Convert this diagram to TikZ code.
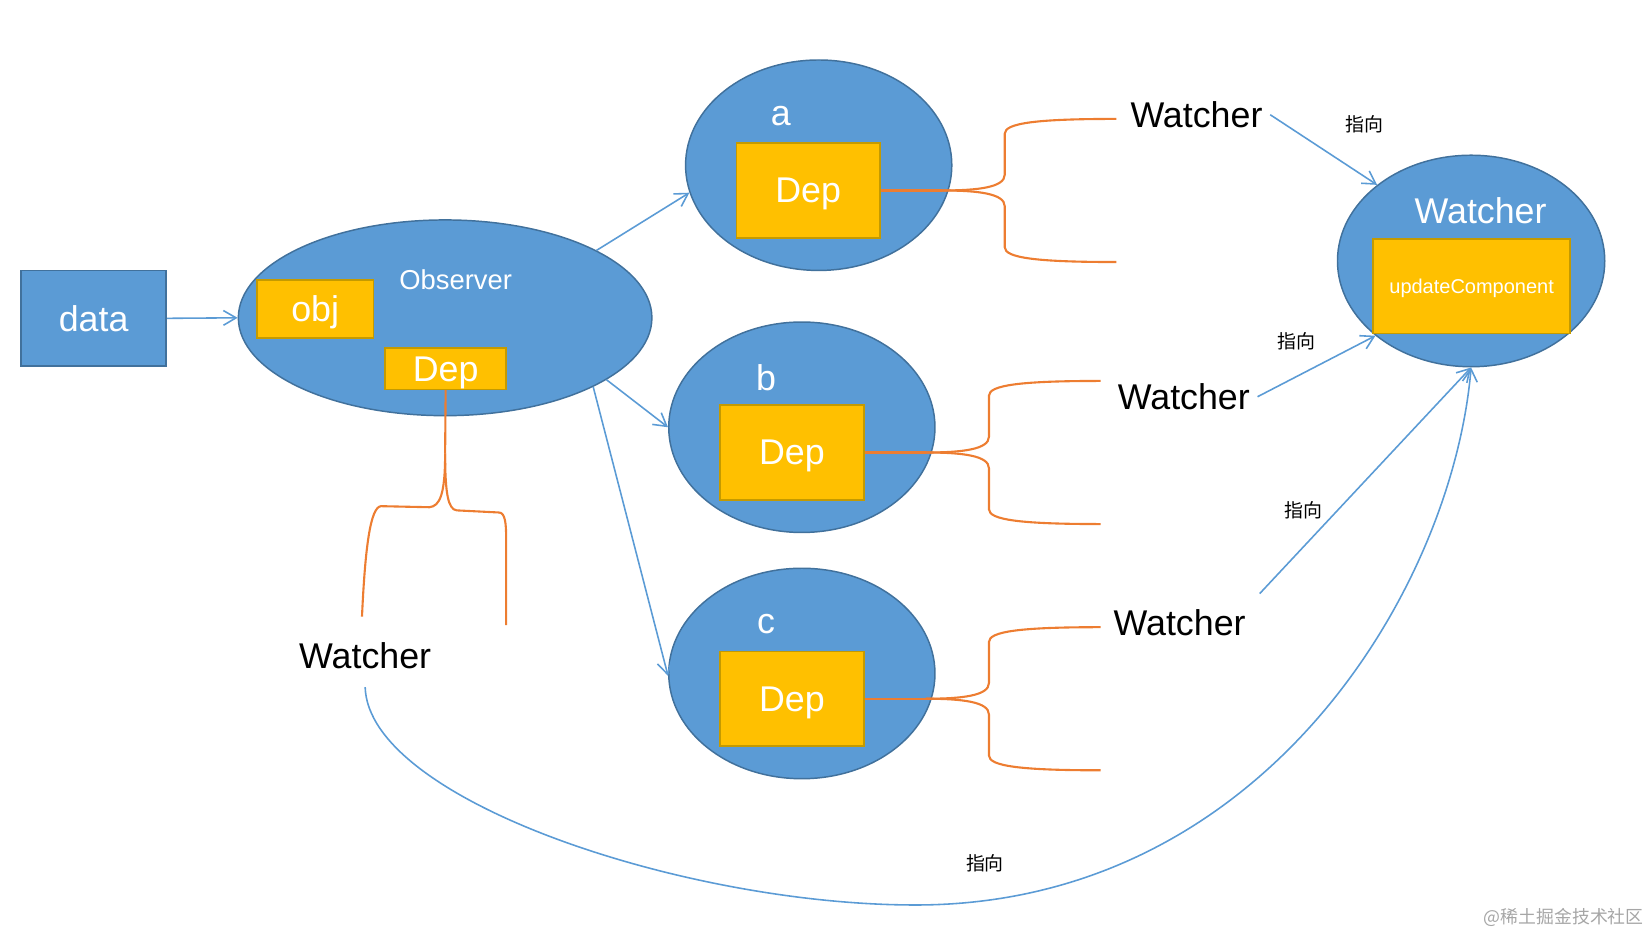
\documentclass[tikz,border=0pt]{standalone}
\usepackage{fontspec}
\setmainfont{Liberation Sans}
\newfontfamily\cjk{Noto Sans CJK SC}
\usetikzlibrary{shapes.geometric,arrows.meta}
\newdimen\dpx \dpx=0.5pt
\definecolor{bfill}{HTML}{5B9BD5}
\definecolor{bline}{HTML}{41719C}
\definecolor{yfill}{HTML}{FFC000}
\definecolor{yline}{HTML}{C49A00}
\definecolor{oline}{HTML}{ED7D31}
\definecolor{wmark}{HTML}{A6A6A6}
\begin{document}
\begin{tikzpicture}[x=0.5pt,y=-0.5pt,
  blueell/.style={ellipse, fill=bfill, draw=bline, line width=0.7pt, inner sep=0pt},
  bluebox/.style={rectangle, fill=bfill, draw=bline, line width=0.8pt, inner sep=0pt, text=white, font=\fontsize{17}{20}\selectfont},
  ybox/.style={rectangle, fill=yfill, draw=yline, line width=0.8pt, inner sep=0pt, text=white, text depth=0pt, font=\fontsize{17}{20}\selectfont},
  wtext/.style={text=white, inner sep=0pt, font=\fontsize{17}{20}\selectfont},
  btext/.style={text=black, inner sep=3.5pt, font=\fontsize{17}{20}\selectfont},
  zx/.style={text=black, inner sep=0pt, font=\cjk\fontsize{9}{11}\selectfont},
  barrow/.style={draw=bfill, line width=0.75pt, -{Straight Barb[length=6pt,width=7pt]}},
  obrace/.style={draw=oline, line width=1pt},
  hbr/.pic={
    \draw[obrace] (0,0) .. controls (35,0) and (60,-3) .. (60,-15) -- (60,-54) .. controls (60,-64) and (90,-68) .. (166,-68);
    \draw[obrace] (0,0) .. controls (35,0) and (60,3) .. (60,15) -- (60,54) .. controls (60,64) and (90,68) .. (166,68);
  }]
\useasboundingbox (0,0) rectangle (1568,890);

% data
\node[bluebox, minimum width=138\dpx, minimum height=91\dpx] (data) at (89,302.5) {data};

% Observer
\node[blueell, minimum width=393\dpx, minimum height=186\dpx] (obs) at (423,302) {};
\node[wtext, font=\fontsize{13}{16}\selectfont] (obst) at (433,266) {Observer};
\node[ybox, minimum width=111\dpx, minimum height=55\dpx] (obj) at (299.5,293.5) {obj};
\node[ybox, minimum width=115\dpx, minimum height=39\dpx] (depo) at (423.5,350.5) {Dep};

% a, b, c
\node[blueell, minimum width=253\dpx, minimum height=200\dpx] (a) at (778,157) {};
\node[wtext] (la) at (742,110) {a};
\node[ybox, minimum width=136\dpx, minimum height=90\dpx] (depa) at (768,181) {Dep};

\node[blueell, minimum width=253\dpx, minimum height=200\dpx] (b) at (762,406) {};
\node[wtext] (lb) at (728,359) {b};
\node[ybox, minimum width=137\dpx, minimum height=90\dpx] (depb) at (752.5,430) {Dep};

\node[blueell, minimum width=253\dpx, minimum height=200\dpx] (c) at (762,640) {};
\node[wtext] (lc) at (728,593) {c};
\node[ybox, minimum width=137\dpx, minimum height=90\dpx] (depc) at (752.5,664) {Dep};

% Watcher target
\node[blueell, minimum width=254\dpx, minimum height=201\dpx] (W) at (1398,248) {};
\node[wtext] (lW) at (1407,200) {Watcher};
\node[ybox, minimum width=187\dpx, minimum height=90\dpx, font=\fontsize{9.5}{11}\selectfont] (upd) at (1398.5,272) {updateComponent};

% black watchers
\node[btext] (w1) at (1137,109) {Watcher};
\node[btext] (w2) at (1125,377) {Watcher};
\node[btext] (w3) at (1121,592) {Watcher};
\node[btext] (w4) at (347,623) {Watcher};

% labels
\node[zx] (z1) at (1297,118) {指向};
\node[zx] (z2) at (1232,324) {指向};
\node[zx] (z3) at (1239,485) {指向};
\node[zx] (z4) at (936,820) {指向};
\node[text=wmark, inner sep=0pt, font=\cjk\fontsize{8.5}{10}\selectfont] (wm) at (1486,872) {@稀土掘金技术社区};

% braces
\draw[obrace] (depa.east) -- ++(58,0) coordinate (ta);
\pic at (ta) {hbr};
\draw[obrace] (depb.east) -- ++(58,0) coordinate (tb);
\pic at (tb) {hbr};
\draw[obrace] (depc.east) -- ++(58,0) coordinate (tc);
\pic at (tc) {hbr};

\draw[obrace] (depo.south) -- ++(-0.5,60) coordinate (to);
\draw[obrace] (to) .. controls (423,470) and (418,481) .. (408,482) -- (362,481) .. controls (352,482) and (347,520) .. (344,586);
\draw[obrace] (to) .. controls (423,470) and (426,484) .. (434,485) -- (474,487) .. controls (480,487) and (481,497) .. (481,512) -- (481,594);

% arrows
\draw[barrow] (data.east) -- (obs.west);
\draw[barrow] (obs.24) -- (a.192);
\draw[barrow] (obs.-21) -- (b.180);
\draw[barrow] (obs.-25) -- (c.181);
\draw[barrow] (w1.east) -- (W.141);
\draw[barrow] (w2.east) -- (W.218);
\draw[barrow] ([shift={(6,-8)}]w3.north east) -- (W.south);
\draw[barrow] ([yshift=-5pt]w4.south) .. controls (350,760) and (650,860) .. (870,860) .. controls (1200,860) and (1380,560) .. (W.south);
\end{tikzpicture}
\end{document}
